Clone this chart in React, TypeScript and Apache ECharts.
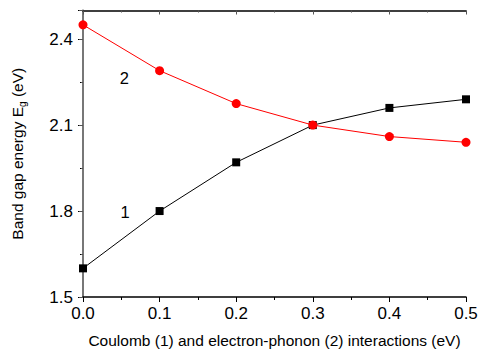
import React, { useEffect, useRef } from "react";
import * as echarts from "echarts";

const xValues = [0.0, 0.1, 0.2, 0.3, 0.4, 0.5];
const coulomb = [1.6, 1.8, 1.97, 2.1, 2.16, 2.19];
const phonon = [2.45, 2.29, 2.175, 2.1, 2.06, 2.04];
const curveLabels = [
  { text: "1", at: [0.055, 1.796] },
  { text: "2", at: [0.054, 2.263] },
];

const FONT = "'Liberation Sans', Arial, sans-serif";

export default function App() {
  const ref = useRef<HTMLDivElement>(null);
  useEffect(() => {
    if (!ref.current) return;
    const chart = echarts.init(ref.current, null, { renderer: "svg" });
    const pair = (ys: number[]) => xValues.map((x, i) => [x, ys[i]]);
    chart.setOption({
      animation: false,
      grid: { left: 83, right: 12, top: 10.5, bottom: 52, outerBoundsMode: "none", containLabel: false },
      xAxis: [
        {
          type: "value",
          min: 0,
          max: 0.5,
          interval: 0.1,
          name: "Coulomb (1) and electron-phonon (2) interactions (eV)",
          nameLocation: "middle",
          nameGap: 35,
          nameTextStyle: { fontFamily: FONT, fontSize: 15.5, color: "#000" },
          axisLine: { lineStyle: { color: "#000", width: 1.5 } },
          axisTick: { show: true, inside: false, length: 5, lineStyle: { color: "#000" } },
          minorTick: { show: true, splitNumber: 2, length: 3, lineStyle: { color: "#000" } },
          splitLine: { show: false },
          axisLabel: {
            fontFamily: FONT,
            fontSize: 17,
            color: "#000",
            margin: 8,
            formatter: (v: number) => v.toFixed(1),
          },
        },
        {
          type: "value",
          position: "top",
          min: 0,
          max: 0.5,
          interval: 0.1,
          axisLine: { show: true, lineStyle: { color: "#000", width: 1.5 } },
          axisTick: { show: true, inside: true, length: 4, lineStyle: { color: "#555" } },
          minorTick: { show: true, splitNumber: 2, length: 2, lineStyle: { color: "#555" } },
          splitLine: { show: false },
          axisLabel: { show: false },
        },
      ],
      yAxis: [
        {
          type: "value",
          min: 1.5,
          max: 2.5,
          interval: 0.3,
          name: "{a|Band gap energy E}{s|g}{a| (eV)}",
          nameLocation: "middle",
          nameRotate: 90,
          nameGap: 56,
          nameTextStyle: {
            fontFamily: FONT,
            fontSize: 15.5,
            color: "#000",
            rich: {
              a: { fontFamily: FONT, fontSize: 15.5, color: "#000" },
              s: { fontFamily: FONT, fontSize: 10, color: "#000", padding: [10, 0, 0, 0] },
            },
          },
          axisLine: { show: true, lineStyle: { color: "#000", width: 1.5 } },
          axisTick: { show: true, inside: false, length: 5, lineStyle: { color: "#000" } },
          minorTick: { show: true, splitNumber: 2, length: 3, lineStyle: { color: "#000" } },
          splitLine: { show: false },
          axisLabel: {
            fontFamily: FONT,
            fontSize: 17,
            color: "#000",
            margin: 10,
            showMaxLabel: false,
            formatter: (v: number) => v.toFixed(1),
          },
        },
        {
          type: "value",
          position: "right",
          min: 1.5,
          max: 2.5,
          interval: 0.3,
          axisLine: { show: true, lineStyle: { color: "#777", width: 2 } },
          axisTick: { show: true, inside: true, length: 4, lineStyle: { color: "#555" } },
          minorTick: { show: true, splitNumber: 2, length: 2, lineStyle: { color: "#555" } },
          splitLine: { show: false },
          axisLabel: { show: false },
        },
      ],
      series: [
        {
          type: "line",
          data: pair(coulomb),
          symbol: "rect",
          symbolSize: 8,
          itemStyle: { color: "#000" },
          lineStyle: { color: "#000", width: 1 },
          z: 2,
        },
        {
          type: "line",
          data: pair(phonon),
          symbol: "circle",
          symbolSize: 9,
          itemStyle: { color: "#ff0000" },
          lineStyle: { color: "#ff0000", width: 1 },
          z: 3,
        },
      ],
    });
    const texts = curveLabels.map((c) => {
      const p = chart.convertToPixel({ xAxisIndex: 0, yAxisIndex: 0 }, c.at) as number[];
      return {
        type: "text",
        x: p[0],
        y: p[1],
        style: {
          text: c.text,
          fontFamily: FONT,
          fontSize: 16.5,
          fill: "#000",
          align: "center",
          verticalAlign: "middle",
        },
      };
    });
    chart.setOption({ graphic: texts });
    return () => chart.dispose();
  }, []);
  return <div ref={ref} style={{ width: 478, height: 349, position: "absolute", left: 0, top: 0 }} />;
}
